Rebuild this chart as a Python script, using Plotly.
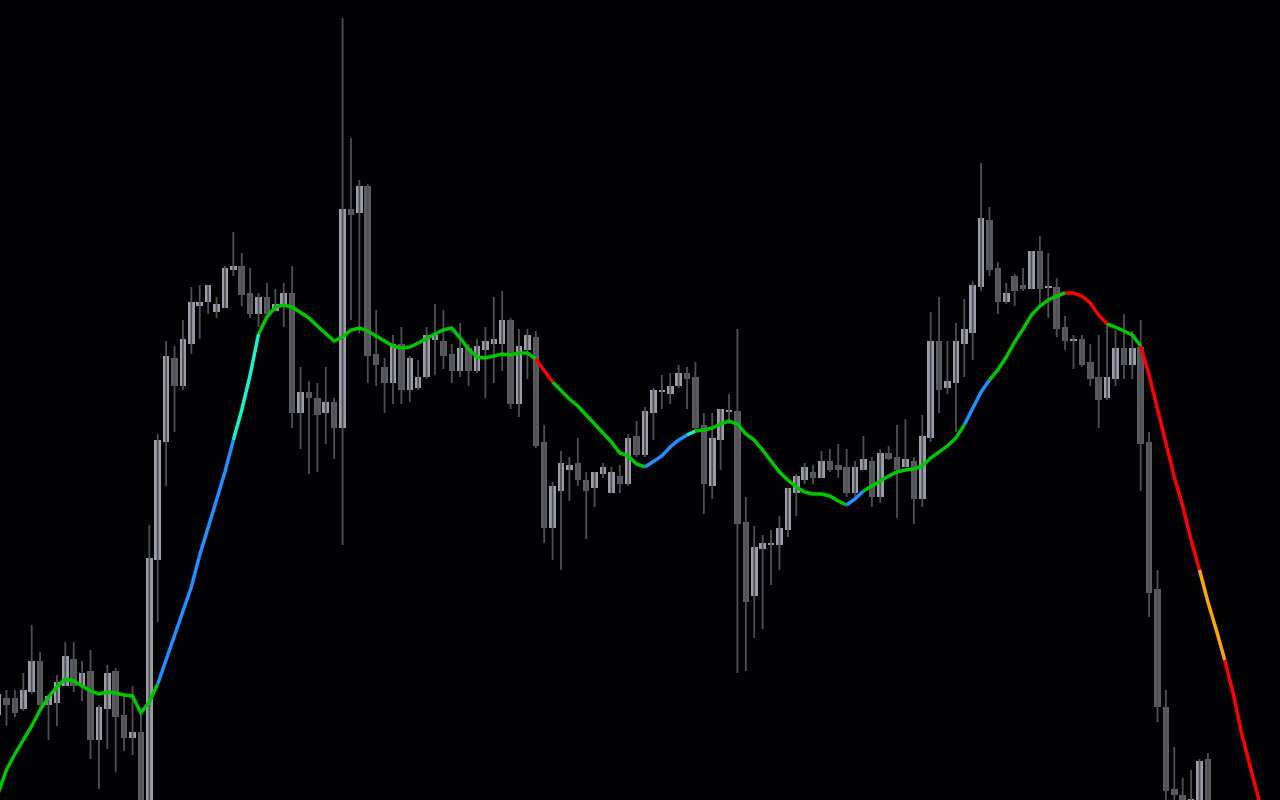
import plotly.graph_objects as go

# ---- candle data (price units, index = bar number) ----
bar_index = list(range(-1, 144))
open_ = [85, 102, 102, 91, 108, 139, 95, 97, 114, 141, 114, 129, 60, 91, 129, 85, 62, 68, -20, 240,
         358, 442, 414, 456, 494, 498, 488, 492, 530, 534, 507, 486, 503, 489, 495, 507, 387, 408, 402, 387,
         398, 372, 591, 587, 614, 446, 433, 417, 456, 410, 412, 423, 460, 459, 446, 429, 452, 429, 450, 456,
         456, 480, 396, 450, 463, 358, 272, 309, 330, 337, 320, 312, 326, 307, 324, 316, 364, 345, 387, 408,
         406, 414, 427, 423, 375, 314, 360, 388, 389, 278, 204, 251, 255, 255, 270, 307, 320, 328, 322, 339,
         335, 333, 307, 330, 339, 303, 347, 343, 333, 339, 301, 362, 459, 412, 417, 456, 467, 513, 580, 532,
         498, 524, 515, 511, 549, 512, 513, 473, 459, 461, 438, 423, 402, 421, 452, 435, 453, 358, 211, 93,
         11, 5, -12, -30, 41]
high = [112, 110, 110, 127, 175, 148, 105, 125, 158, 158, 139, 150, 95, 135, 132, 105, 114, 90, 275, 366,
        459, 454, 480, 513, 515, 515, 503, 534, 568, 547, 532, 507, 517, 511, 517, 534, 433, 419, 417, 433,
        402, 782, 662, 620, 616, 490, 442, 465, 473, 444, 440, 473, 496, 490, 456, 477, 456, 461, 473, 503,
        509, 482, 471, 471, 469, 375, 318, 349, 343, 362, 328, 328, 337, 333, 335, 366, 379, 393, 412, 425,
        427, 435, 433, 438, 387, 387, 391, 406, 471, 303, 274, 265, 270, 284, 312, 326, 337, 335, 349, 351,
        356, 351, 339, 364, 343, 351, 354, 375, 381, 343, 385, 488, 503, 459, 477, 501, 519, 637, 593, 538,
        517, 526, 532, 549, 564, 547, 522, 484, 465, 465, 456, 465, 477, 470, 486, 469, 480, 368, 230, 110,
        53, 22, 30, 41, 47]
low = [78, 74, 83, 89, 106, 88, 60, 74, 114, 108, 99, 41, 11, 51, 28, 49, 45, -30, -30, 178,
       314, 368, 410, 446, 461, 486, 482, 492, 524, 494, 482, 473, 482, 489, 473, 372, 351, 326, 328, 356,
       341, 255, 480, 467, 417, 414, 387, 396, 396, 398, 410, 421, 425, 431, 417, 423, 414, 427, 402, 417,
       429, 391, 383, 421, 352, 257, 240, 230, 299, 314, 261, 293, 322, 307, 307, 314, 343, 343, 360, 391,
       396, 412, 391, 370, 286, 301, 330, 376, 127, 129, 162, 171, 215, 230, 263, 284, 316, 316, 322, 328,
       322, 303, 303, 330, 293, 297, 340, 282, 333, 276, 293, 358, 387, 406, 368, 423, 440, 509, 524, 486,
       496, 494, 509, 511, 496, 482, 463, 450, 431, 433, 414, 372, 400, 414, 421, 421, 309, 183, 78, -10,
       -15, -50, -30, -50, -50]
close = [106, 95, 87, 110, 139, 95, 104, 118, 144, 114, 127, 60, 93, 127, 83, 62, 68, -15, 242, 360,
         444, 414, 461, 498, 498, 515, 496, 532, 534, 505, 486, 503, 486, 496, 507, 387, 408, 402, 385, 398,
         372, 591, 585, 614, 444, 435, 417, 456, 410, 442, 423, 465, 465, 444, 429, 452, 429, 454, 459, 461,
         480, 396, 454, 465, 354, 272, 314, 337, 335, 320, 309, 328, 333, 328, 316, 362, 345, 389, 410, 410,
         414, 427, 421, 372, 316, 362, 391, 390, 276, 198, 253, 257, 257, 272, 312, 324, 333, 322, 339, 330,
         330, 307, 333, 341, 303, 347, 341, 330, 341, 301, 364, 459, 410, 419, 459, 471, 515, 582, 530, 498,
         507, 509, 511, 549, 511, 513, 471, 459, 461, 435, 421, 400, 423, 452, 435, 452, 356, 207, 93, 9,
         5, -30, 1, 39, -30]

# ---- moving average (index -1 .. 150, runs past the last candle) ----
ma_index = list(range(-1, 151))
ma_value = [7, 30, 46, 60, 74, 90, 103, 113, 121, 119, 114, 109, 106, 108, 107, 105, 104, 87, 98, 116,
            140, 164, 187, 213, 245, 274, 300, 328, 360, 390, 425, 466, 483, 493, 495, 493, 488, 482, 474, 466,
            459, 463, 470, 472, 469, 464, 459, 454, 452, 453, 457, 462, 466, 470, 472, 462, 451, 443, 442, 444,
            446, 445, 447, 447, 441, 430, 418, 409, 401, 394, 385, 375, 367, 358, 347, 344, 336, 333, 338, 344,
            353, 360, 365, 369, 370, 372, 376, 379, 376, 366, 360, 350, 339, 328, 320, 313, 308, 306, 306, 304,
            299, 295, 301, 309, 314, 320, 324, 328, 330, 331, 334, 342, 348, 354, 362, 375, 392, 408, 420, 430,
            443, 458, 471, 485, 494, 500, 504, 507, 507, 504, 497, 485, 476, 473, 469, 465, 454, 425, 391, 356,
            323, 294, 260, 230, 198, 170, 140, 107, 67, 35, 3, -30]
# trend state runs: (first bar, last bar, state)
ma_runs = [(-1, 18, "flat"), (18, 27, "up"), (27, 30, "strong_up"), (30, 63, "flat"),
           (63, 65, "down"), (65, 76, "flat"), (76, 81, "up"), (81, 82, "strong_up"),
           (82, 100, "flat"), (100, 102, "up"), (102, 114, "flat"), (114, 117, "up"),
           (117, 126, "flat"), (126, 131, "down"), (131, 135, "flat"), (135, 142, "down"),
           (142, 145, "strong_down"), (145, 150, "down")]

# ---- styles ----
BG = "#020204"
BULL = "#9b9ea8"
BEAR = "#5b5c62"
WICK = "#4f5055"
STATE_COLOR = {"flat": "#00c800", "up": "#1e90ff", "strong_up": "#14f5cd",
               "down": "#ff0000", "strong_down": "#ffa500"}

fig = go.Figure()

# wicks
wx, wy = [], []
for i, h, l in zip(bar_index, high, low):
    wx += [i, i, None]
    wy += [l, h, None]
fig.add_trace(go.Scatter(x=wx, y=wy, mode="lines", line=dict(color=WICK, width=1.8),
                         hoverinfo="skip", showlegend=False))

# bodies
for bull in (True, False):
    xs, bases, hs = [], [], []
    for i, o, c in zip(bar_index, open_, close):
        if (c >= o) == bull:
            xs.append(i)
            bases.append(min(o, c))
            hs.append(max(abs(c - o), 1.5))
    fig.add_trace(go.Bar(x=xs, y=hs, base=bases, width=0.78,
                         marker=dict(color=BULL if bull else BEAR, line=dict(width=0)),
                         hoverinfo="skip", showlegend=False))

# moving average, coloured by state
for start, end, state in ma_runs:
    a = ma_index.index(start)
    b = ma_index.index(end)
    fig.add_trace(go.Scatter(x=ma_index[a:b + 1], y=ma_value[a:b + 1], mode="lines",
                             line=dict(color=STATE_COLOR[state], width=3.5),
                             hoverinfo="skip", showlegend=False))

fig.update_layout(
    width=1280, height=800,
    margin=dict(l=0, r=0, t=0, b=0),
    paper_bgcolor=BG, plot_bgcolor=BG,
    barmode="overlay", bargap=0,
    showlegend=False,
    xaxis=dict(range=[-0.774, 151.58], visible=False, showgrid=False, zeroline=False, fixedrange=True),
    yaxis=dict(range=[0, 800], visible=False, showgrid=False, zeroline=False, fixedrange=True),
)

fig.write_html(
    "out.html",
    config={"displayModeBar": False},
    post_script="document.body.style.margin='0';document.body.style.background='#020204';"
                "document.body.style.overflow='hidden';",
)
